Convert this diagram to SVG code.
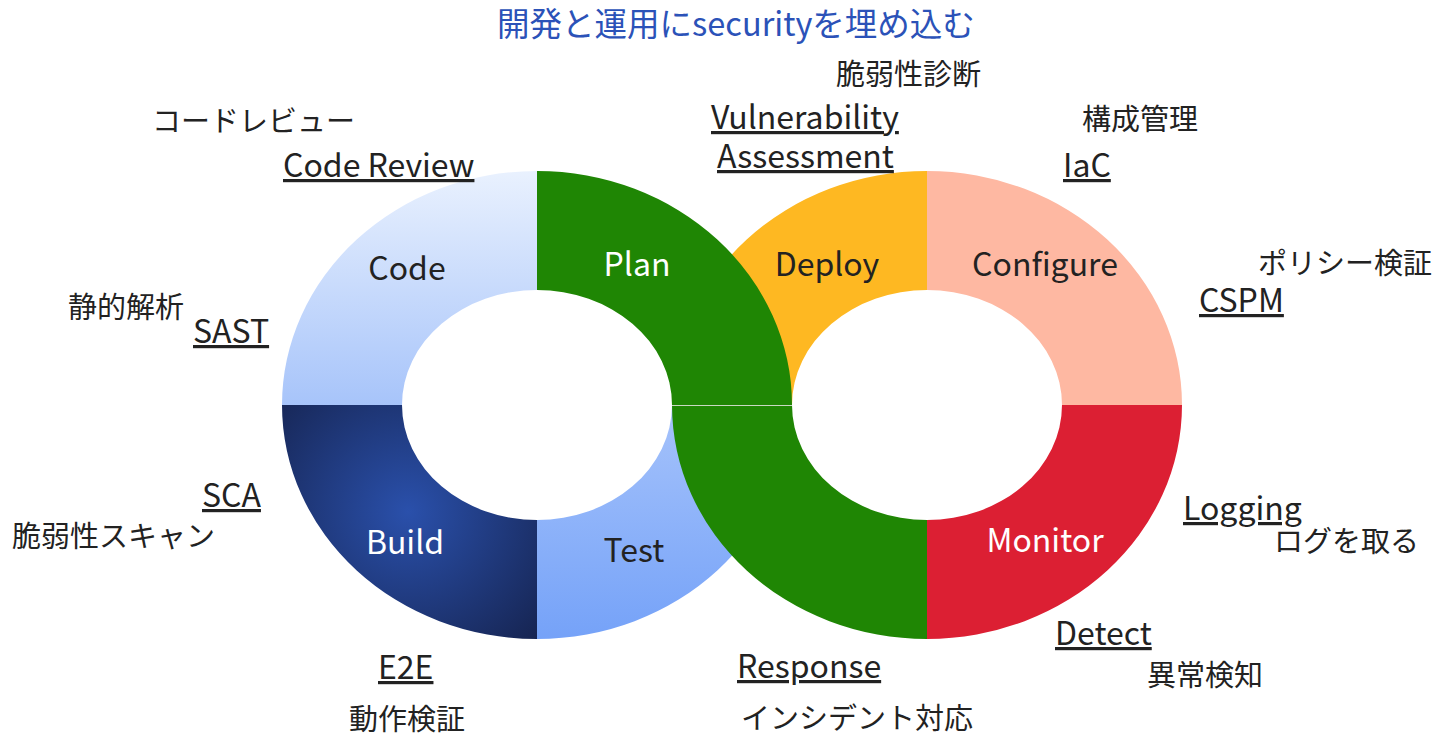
<svg xmlns="http://www.w3.org/2000/svg" width="1437" height="736" viewBox="0 0 1437 736">
<defs>
<linearGradient id="gCode" x1="0" y1="171" x2="0" y2="405" gradientUnits="userSpaceOnUse"><stop offset="0" stop-color="#e9f1fe"/><stop offset="1" stop-color="#a7c4fa"/></linearGradient>
<linearGradient id="gTest" x1="0" y1="405" x2="0" y2="639" gradientUnits="userSpaceOnUse"><stop offset="0" stop-color="#a6c3fb"/><stop offset="1" stop-color="#75a2f8"/></linearGradient>
<radialGradient id="gBuild" cx="408" cy="512" r="190" gradientUnits="userSpaceOnUse"><stop offset="0" stop-color="#2a50ab"/><stop offset="1" stop-color="#15224d"/></radialGradient>
<style>
text{font-family:"Noto Sans CJK JP","Noto Sans",sans-serif;}
.seg{font-size:32px;text-anchor:middle;}
.dark{fill:#222;}
.light{fill:#fff;}
.en{font-size:32px;fill:#222;text-decoration:underline;}
.ja{font-size:29px;fill:#222;}
.title{font-size:32.5px;fill:#2b52b8;text-anchor:middle;}
</style>
</defs>
<rect width="1437" height="736" fill="#fff"/>
<text class="title" x="736" y="36">開発と運用にsecurityを埋め込む</text>

<g id="node-code">
<path d="M282,405 A255,234 0 0 1 537,171 L537,290 A135,115 0 0 0 402,405 Z" fill="url(#gCode)"/>
<text class="seg dark" x="407" y="280">Code</text>
</g>
<g id="node-build">
<path d="M282,405 A255,234 0 0 0 537,639 L537,520 A135,115 0 0 1 402,405 Z" fill="url(#gBuild)"/>
<text class="seg light" x="405" y="554">Build</text>
</g>
<g id="node-test">
<path d="M537,639 A255,234 0 0 0 792,405 L672,405 A135,115 0 0 1 537,520 Z" fill="url(#gTest)"/>
<text class="seg dark" x="634" y="562">Test</text>
</g>
<g id="node-deploy">
<path d="M672,405 A255,234 0 0 1 927,171 L927,290 A135,115 0 0 0 792,405 Z" fill="#feb822"/>
<text class="seg dark" x="827" y="276">Deploy</text>
</g>
<g id="node-configure">
<path d="M927,171 A255,234 0 0 1 1182,405 L1062,405 A135,115 0 0 0 927,290 Z" fill="#feb8a2"/>
<text class="seg dark" x="1045" y="276">Configure</text>
</g>
<g id="node-monitor">
<path d="M1182,405 A255,234 0 0 1 927,639 L927,520 A135,115 0 0 0 1062,405 Z" fill="#dc1f33"/>
<text class="seg light" x="1045" y="552">Monitor</text>
</g>
<g id="node-plan">
<path d="M537,171 A255,234 0 0 1 792,405 L672,405 A135,115 0 0 0 537,290 Z" fill="#1f8604"/>
<path d="M672,405 A255,234 0 0 0 927,639 L927,520 A135,115 0 0 1 792,405 Z" fill="#1f8604"/>
<text class="seg light" x="637" y="276">Plan</text>
</g>
<g id="connectors">
<line x1="672" y1="405.5" x2="792" y2="405.5" stroke="#c9d9c2" stroke-width="1"/>
</g>

<g id="label-code">
<text class="ja" x="152" y="132">コードレビュー</text>
<text class="en" x="283" y="177">Code Review</text>
</g>
<g id="label-plan">
<text class="ja" x="836" y="85">脆弱性診断</text>
<text class="en" x="711" y="129">Vulnerability</text>
<text class="en" x="717" y="168">Assessment</text>
</g>
<g id="label-configure">
<text class="ja" x="1082" y="130">構成管理</text>
<text class="en" x="1063" y="177">IaC</text>
<text class="ja" x="1258" y="274">ポリシー検証</text>
<text class="en" x="1199" y="312">CSPM</text>
</g>
<g id="label-sast">
<text class="ja" x="68" y="318">静的解析</text>
<text class="en" x="193" y="343">SAST</text>
</g>
<g id="label-sca">
<text class="en" x="202" y="507">SCA</text>
<text class="ja" x="12" y="547">脆弱性スキャン</text>
</g>
<g id="label-monitor">
<text class="en" x="1183" y="520">Logging</text>
<text class="ja" x="1274" y="552">ログを取る</text>
<text class="en" x="1055" y="645">Detect</text>
<text class="ja" x="1147" y="686">異常検知</text>
</g>
<g id="label-test">
<text class="en" x="378" y="679">E2E</text>
<text class="ja" x="349" y="730">動作検証</text>
</g>
<g id="label-response">
<text class="en" x="737" y="678">Response</text>
<text class="ja" x="741" y="729">インシデント対応</text>
</g>
</svg>
